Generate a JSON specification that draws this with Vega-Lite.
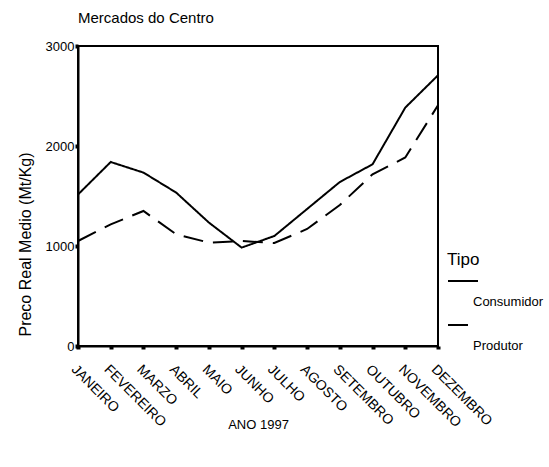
{
  "$schema": "https://vega.github.io/schema/vega-lite/v6.json",
  "autosize": "none",
  "width": 360,
  "height": 300,
  "padding": {"left": 78, "top": 46, "right": 111, "bottom": 121},
  "background": "white",
  "config": {
    "font": "Liberation Sans",
    "view": {"stroke": "black", "strokeWidth": 2}
  },
  "title": {
    "text": "Mercados do Centro",
    "anchor": "start",
    "frame": "group",
    "fontSize": 15,
    "fontWeight": "normal",
    "color": "black",
    "offset": 14
  },
  "data": {
    "values": [
      {"mes": "JANEIRO", "tipo": "Consumidor", "preco": 1515},
      {"mes": "FEVEREIRO", "tipo": "Consumidor", "preco": 1840},
      {"mes": "MARZO", "tipo": "Consumidor", "preco": 1734},
      {"mes": "ABRIL", "tipo": "Consumidor", "preco": 1534},
      {"mes": "MAIO", "tipo": "Consumidor", "preco": 1234},
      {"mes": "JUNHO", "tipo": "Consumidor", "preco": 984},
      {"mes": "JULHO", "tipo": "Consumidor", "preco": 1100},
      {"mes": "AGOSTO", "tipo": "Consumidor", "preco": 1370},
      {"mes": "SETEMBRO", "tipo": "Consumidor", "preco": 1640},
      {"mes": "OUTUBRO", "tipo": "Consumidor", "preco": 1817},
      {"mes": "NOVEMBRO", "tipo": "Consumidor", "preco": 2384},
      {"mes": "DEZEMBRO", "tipo": "Consumidor", "preco": 2707},
      {"mes": "JANEIRO", "tipo": "Produtor", "preco": 1050},
      {"mes": "FEVEREIRO", "tipo": "Produtor", "preco": 1217},
      {"mes": "MARZO", "tipo": "Produtor", "preco": 1350},
      {"mes": "ABRIL", "tipo": "Produtor", "preco": 1117},
      {"mes": "MAIO", "tipo": "Produtor", "preco": 1034},
      {"mes": "JUNHO", "tipo": "Produtor", "preco": 1050},
      {"mes": "JULHO", "tipo": "Produtor", "preco": 1030},
      {"mes": "AGOSTO", "tipo": "Produtor", "preco": 1170},
      {"mes": "SETEMBRO", "tipo": "Produtor", "preco": 1410},
      {"mes": "OUTUBRO", "tipo": "Produtor", "preco": 1717},
      {"mes": "NOVEMBRO", "tipo": "Produtor", "preco": 1885},
      {"mes": "DEZEMBRO", "tipo": "Produtor", "preco": 2407}
    ]
  },
  "mark": {"type": "line", "color": "black", "strokeWidth": 2},
  "encoding": {
    "x": {
      "field": "mes",
      "type": "ordinal",
      "sort": ["JANEIRO","FEVEREIRO","MARZO","ABRIL","MAIO","JUNHO","JULHO","AGOSTO","SETEMBRO","OUTUBRO","NOVEMBRO","DEZEMBRO"],
      "scale": {"type": "point", "padding": 0},
      "axis": {
        "title": "ANO 1997",
        "titleFontSize": 13,
        "titleFontWeight": "normal",
        "titleColor": "black",
        "titleY": 72,
        "titleBaseline": "top",
        "labelAngle": 45,
        "labelAlign": "left",
        "labelBaseline": "top",
        "labelFontSize": 14,
        "labelColor": "black",
        "labelPadding": 13,
        "domainColor": "black",
        "domainWidth": 2,
        "tickColor": "black",
        "tickSize": 3,
        "tickWidth": 4,
        "grid": false
      }
    },
    "y": {
      "field": "preco",
      "type": "quantitative",
      "scale": {"domain": [0, 3000]},
      "axis": {
        "title": "Preco Real Medio (Mt/Kg)",
        "values": [0, 1000, 2000, 3000],
        "format": "d",
        "titleFontSize": 16,
        "titleFontWeight": "normal",
        "titleColor": "black",
        "titlePadding": 12,
        "titleY": 198,
        "labelFontSize": 13,
        "labelColor": "black",
        "labelPadding": 1,
        "domainColor": "black",
        "domainWidth": 2,
        "tickColor": "black",
        "tickSize": 3,
        "tickWidth": 4,
        "grid": false
      }
    },
    "strokeDash": {
      "field": "tipo",
      "type": "nominal",
      "scale": {"domain": ["Consumidor", "Produtor"], "range": [[1, 0], [20, 10]]},
      "legend": {
        "orient": "none",
        "legendX": 369,
        "legendY": 206,
        "title": "Tipo",
        "titleFontSize": 17,
        "titleFontWeight": "normal",
        "titleColor": "black",
        "titlePadding": -4,
        "symbolType": "stroke",
        "symbolSize": 900,
        "symbolStrokeWidth": 2,
        "symbolStrokeColor": "black",
        "labelFontSize": 13,
        "labelColor": "black",
        "labelBaseline": "top",
        "labelLineHeight": 19,
        "labelOffset": -6,
        "labelExpr": "['', datum.label]",
        "rowPadding": -12
      }
    }
  }
}
